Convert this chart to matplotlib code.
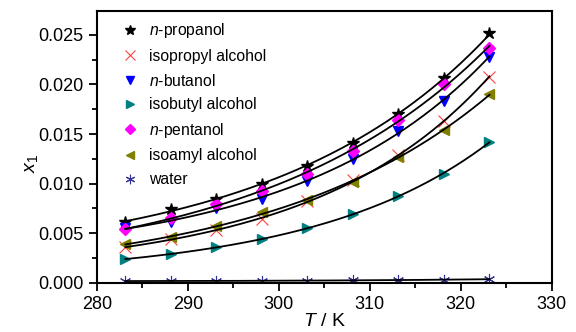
import numpy as np
import matplotlib
matplotlib.use("Agg")
import matplotlib.pyplot as plt
from matplotlib.ticker import MultipleLocator

plt.rcParams['font.family'] = ['Liberation Sans', 'DejaVu Sans']
plt.rcParams['mathtext.fontset'] = 'custom'
plt.rcParams['mathtext.rm'] = 'Liberation Sans'
plt.rcParams['mathtext.it'] = 'Liberation Sans:italic'

# temperatures, K
T = [283.15, 288.15, 293.15, 298.15, 303.15, 308.15, 313.15, 318.15, 323.15]

# mole fraction solubility x1
n_propanol = [0.0061, 0.0074, 0.0085, 0.0100, 0.0118, 0.0141, 0.0170, 0.0206, 0.0252]
isopropyl = [0.0036, 0.0044, 0.0053, 0.0064, 0.0082, 0.0104, 0.0129, 0.0163, 0.0207]
n_butanol = [0.0055, 0.0061, 0.0075, 0.0085, 0.0103, 0.0125, 0.0153, 0.0183, 0.0228]
isobutyl = [0.0024, 0.0029, 0.0036, 0.0044, 0.0055, 0.0069, 0.0088, 0.0110, 0.0142]
n_pentanol = [0.0054, 0.0065, 0.0079, 0.0093, 0.0110, 0.0133, 0.0164, 0.0200, 0.0237]
isoamyl = [0.0039, 0.0046, 0.0057, 0.0071, 0.0084, 0.0102, 0.0127, 0.0154, 0.0190]
water = [0.00018, 0.00019, 0.00020, 0.00021, 0.00023, 0.00025, 0.00028, 0.00032, 0.00037]

series = [
    ("$n$-propanol", n_propanol, dict(marker="*", color="black", ms=9)),
    ("isopropyl alcohol", isopropyl, dict(marker="x", color="#ff4040", ms=8, mew=0.8)),
    ("$n$-butanol", n_butanol, dict(marker="v", color="#0000ff", ms=7.5)),
    ("isobutyl alcohol", isobutyl, dict(marker=">", color="#008080", ms=7.5)),
    ("$n$-pentanol", n_pentanol, dict(marker="D", color="#ff00ff", ms=6.5)),
    ("isoamyl alcohol", isoamyl, dict(marker="<", color="#808000", ms=7.5)),
    ("water", water, dict(marker=(6, 2, 0), color="#33339a", ms=8, mew=0.8)),
]


def apelblat_fit(t, x):
    # ln x = A + B/T + C ln T, least squares
    t = np.asarray(t)
    M = np.column_stack([np.ones_like(t), 1.0 / t, np.log(t)])
    coef, *_ = np.linalg.lstsq(M, np.log(x), rcond=None)
    tt = np.linspace(t.min(), t.max(), 200)
    yy = np.exp(coef[0] + coef[1] / tt + coef[2] * np.log(tt))
    return tt, yy


fig = plt.figure(figsize=(5.76, 3.32), dpi=100)
ax = fig.add_axes([0.168, 0.148, 0.790, 0.819])

for label, x, style in series:
    tt, yy = apelblat_fit(T, x)
    ax.plot(tt, yy, color="black", lw=1.3, zorder=3)
    ax.plot(T, x, ls="none", label=label, zorder=2, **style)

ax.set_xlim(280, 330)
ax.set_ylim(0, 0.0274)
ax.xaxis.set_major_locator(MultipleLocator(10))
ax.xaxis.set_minor_locator(MultipleLocator(5))
ax.yaxis.set_major_locator(MultipleLocator(0.005))
ax.yaxis.set_minor_locator(MultipleLocator(0.0025))
ax.yaxis.set_major_formatter(plt.FormatStrFormatter("%.3f"))

for s in ax.spines.values():
    s.set_linewidth(1.5)
ax.tick_params(which="both", direction="out", top=False, right=False,
               labelsize=13, width=1.3)
ax.tick_params(which="major", length=6)
ax.tick_params(which="minor", length=3.5)

ax.set_xlabel("$T$ / K", fontsize=14, labelpad=0)
ax.set_ylabel("$x_1$", fontsize=14)
ax.yaxis.set_label_coords(-0.125, 0.44)

leg = ax.legend(loc="upper left", frameon=False, fontsize=11.3, handletextpad=0.6,
                handlelength=1.2, borderaxespad=0.0, labelspacing=0.55,
                markerscale=0.85, bbox_to_anchor=(0.038, 0.985))

fig.savefig("out.png", dpi=100)
